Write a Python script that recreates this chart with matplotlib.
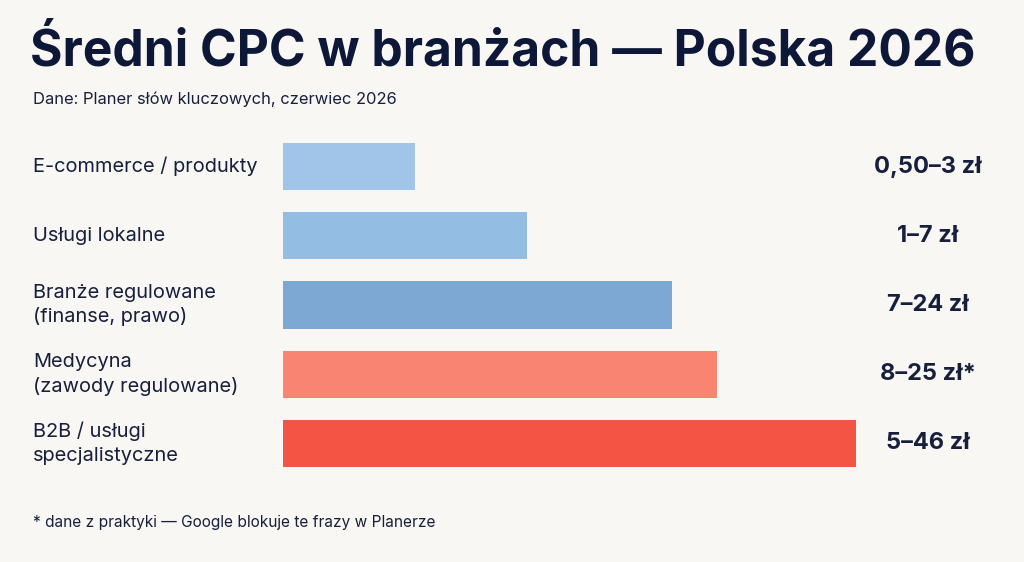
import matplotlib
matplotlib.use("Agg")
import matplotlib.pyplot as plt
import matplotlib.transforms as mtransforms

plt.rcParams['font.family'] = ['Inter', 'DejaVu Sans']

categories = [
    "E-commerce / produkty",
    "Usługi lokalne",
    "Branże regulowane\n(finanse, prawo)",
    "Medycyna\n(zawody regulowane)",
    "B2B / usługi\nspecjalistyczne",
]
# relative bar length (longest = 10)
bar_scale = [2.3, 4.26, 6.79, 7.57, 10.0]
value_labels = ["0,50–3 zł", "1–7 zł", "7–24 zł", "8–25 zł*", "5–46 zł"]
bar_colors = ["#a0c5e8", "#93bde3", "#7ea8d4", "#f98472", "#f35443"]

bg = "#f8f7f3"
navy = "#0d1838"
text_col = "#161f3c"

fig = plt.figure(figsize=(10.24, 5.62), dpi=100, facecolor=bg)
ax = fig.add_axes([283 / 1024, 84 / 562, 573 / 1024, 346 / 562])
ax.set_facecolor(bg)

ypos = list(range(len(categories)))
ax.barh(ypos, bar_scale, height=0.68, color=bar_colors, edgecolor="none")
ax.set_xlim(0, 10)
ax.set_ylim(4.5, -0.5)
ax.axis("off")

trans = mtransforms.blended_transform_factory(fig.transFigure, ax.transData)
for y, cat, val in zip(ypos, categories, value_labels):
    ax.text(33 / 1024, y, cat, transform=trans, ha="left", va="center",
            fontsize=14.4, color=text_col, linespacing=1.4)
    ax.text(928 / 1024, y, val, transform=trans, ha="center", va="center",
            fontsize=17, fontweight="bold", color=text_col)

fig.text(30 / 1024, 1 - 65 / 562, "Średni CPC w branżach — Polska 2026",
         fontsize=35.8, fontweight="bold", color=navy, va="baseline")
fig.text(33 / 1024, 1 - 104 / 562, "Dane: Planer słów kluczowych, czerwiec 2026",
         fontsize=11.9, color=text_col, va="baseline")
fig.text(33 / 1024, 1 - 527 / 562, "* dane z praktyki — Google blokuje te frazy w Planerze",
         fontsize=11.1, color=text_col, va="baseline")

fig.savefig("out.png", dpi=100, facecolor=bg)
